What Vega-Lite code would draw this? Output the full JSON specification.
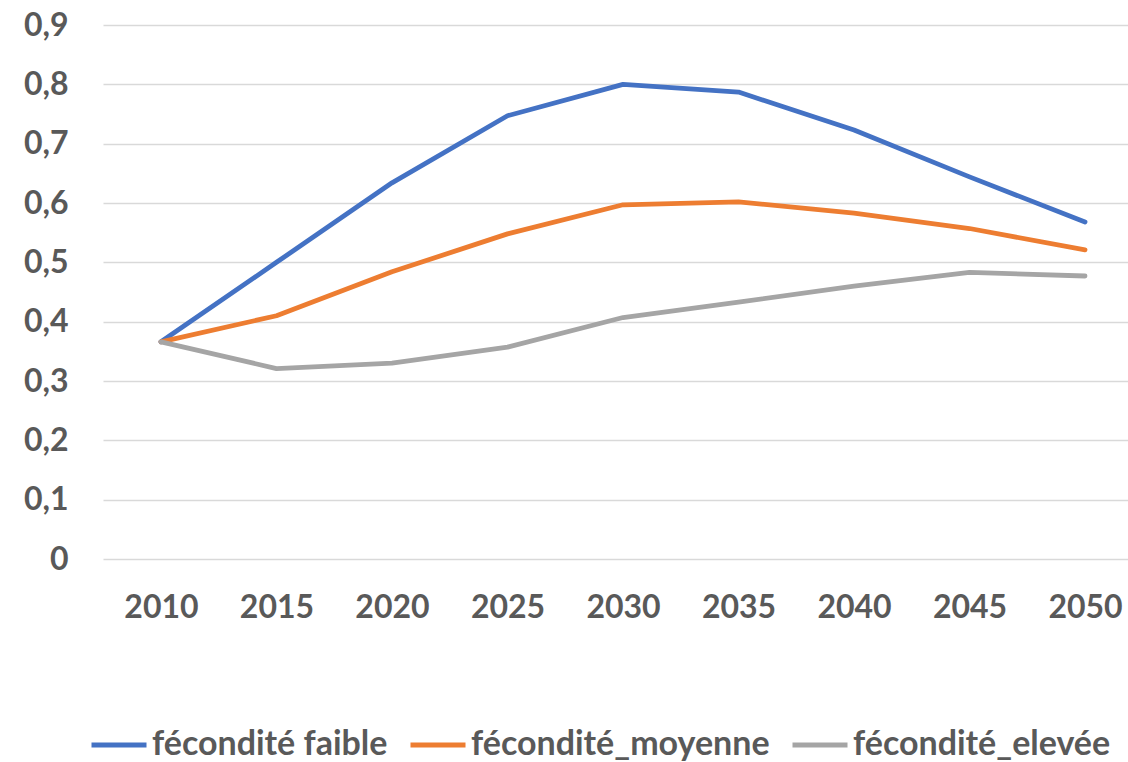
{
  "$schema": "https://vega.github.io/schema/vega-lite/v6.json",
  "autosize": {"type": "none"},
  "width": 1025,
  "height": 534,
  "padding": {"left": 103, "top": 25, "right": 0, "bottom": 203},
  "background": "white",
  "config": {
    "view": {"stroke": null},
    "font": "Lato"
  },
  "data": {
    "values": [
      {"annee": 2010, "serie": "fécondité faible", "valeur": 0.366},
      {"annee": 2015, "serie": "fécondité faible", "valeur": 0.500},
      {"annee": 2020, "serie": "fécondité faible", "valeur": 0.634},
      {"annee": 2025, "serie": "fécondité faible", "valeur": 0.747},
      {"annee": 2030, "serie": "fécondité faible", "valeur": 0.800},
      {"annee": 2035, "serie": "fécondité faible", "valeur": 0.787},
      {"annee": 2040, "serie": "fécondité faible", "valeur": 0.723},
      {"annee": 2045, "serie": "fécondité faible", "valeur": 0.644},
      {"annee": 2050, "serie": "fécondité faible", "valeur": 0.568},
      {"annee": 2010, "serie": "fécondité_moyenne", "valeur": 0.366},
      {"annee": 2015, "serie": "fécondité_moyenne", "valeur": 0.410},
      {"annee": 2020, "serie": "fécondité_moyenne", "valeur": 0.484},
      {"annee": 2025, "serie": "fécondité_moyenne", "valeur": 0.548},
      {"annee": 2030, "serie": "fécondité_moyenne", "valeur": 0.597},
      {"annee": 2035, "serie": "fécondité_moyenne", "valeur": 0.602},
      {"annee": 2040, "serie": "fécondité_moyenne", "valeur": 0.583},
      {"annee": 2045, "serie": "fécondité_moyenne", "valeur": 0.557},
      {"annee": 2050, "serie": "fécondité_moyenne", "valeur": 0.521},
      {"annee": 2010, "serie": "fécondité_elevée", "valeur": 0.366},
      {"annee": 2015, "serie": "fécondité_elevée", "valeur": 0.321},
      {"annee": 2020, "serie": "fécondité_elevée", "valeur": 0.330},
      {"annee": 2025, "serie": "fécondité_elevée", "valeur": 0.357},
      {"annee": 2030, "serie": "fécondité_elevée", "valeur": 0.407},
      {"annee": 2035, "serie": "fécondité_elevée", "valeur": 0.433},
      {"annee": 2040, "serie": "fécondité_elevée", "valeur": 0.460},
      {"annee": 2045, "serie": "fécondité_elevée", "valeur": 0.483},
      {"annee": 2050, "serie": "fécondité_elevée", "valeur": 0.477}
    ]
  },
  "mark": {"type": "line", "strokeWidth": 4.8, "strokeCap": "round", "strokeJoin": "round"},
  "encoding": {
    "x": {
      "field": "annee",
      "type": "quantitative",
      "scale": {"domain": [2007.49, 2051.86], "nice": false, "zero": false},
      "axis": {
        "title": null,
        "values": [2010, 2015, 2020, 2025, 2030, 2035, 2040, 2045, 2050],
        "format": "d",
        "labelAngle": 0,
        "ticks": false,
        "domain": false,
        "grid": false,
        "labelFont": "Lato",
        "labelFontSize": 32,
        "labelFontWeight": "bold",
        "labelColor": "#595959",
        "labelBaseline": "alphabetic",
        "labelPadding": 58,
        "labelFlush": false,
        "labelOverlap": false
      }
    },
    "y": {
      "field": "valeur",
      "type": "quantitative",
      "scale": {"domain": [0, 0.9], "nice": false, "zero": true},
      "axis": {
        "title": null,
        "values": [0, 0.1, 0.2, 0.3, 0.4, 0.5, 0.6, 0.7, 0.8, 0.9],
        "labelExpr": "replace(format(datum.value, '.1~f'), '.', ',')",
        "ticks": false,
        "domain": false,
        "grid": true,
        "gridColor": "#d9d9d9",
        "gridWidth": 1.5,
        "labelFont": "Lato",
        "labelFontSize": 32,
        "labelFontWeight": "bold",
        "labelColor": "#595959",
        "labelPadding": 35,
        "labelBaseline": "middle",
        "labelFlush": false,
        "labelOverlap": false
      }
    },
    "color": {
      "field": "serie",
      "type": "nominal",
      "scale": {
        "domain": ["fécondité faible", "fécondité_moyenne", "fécondité_elevée"],
        "range": ["#4472C4", "#ED7D31", "#A5A5A5"]
      },
      "legend": {
        "title": null,
        "orient": "none",
        "direction": "horizontal",
        "legendX": -14,
        "legendY": 690,
        "symbolType": "stroke",
        "symbolSize": 3025,
        "symbolStrokeWidth": 5,
        "labelFont": "Lato",
        "labelFontSize": 34,
        "labelFontWeight": "bold",
        "labelColor": "#595959",
        "labelOffset": 3,
        "columnPadding": 12,
        "labelLimit": 400
      }
    }
  }
}
